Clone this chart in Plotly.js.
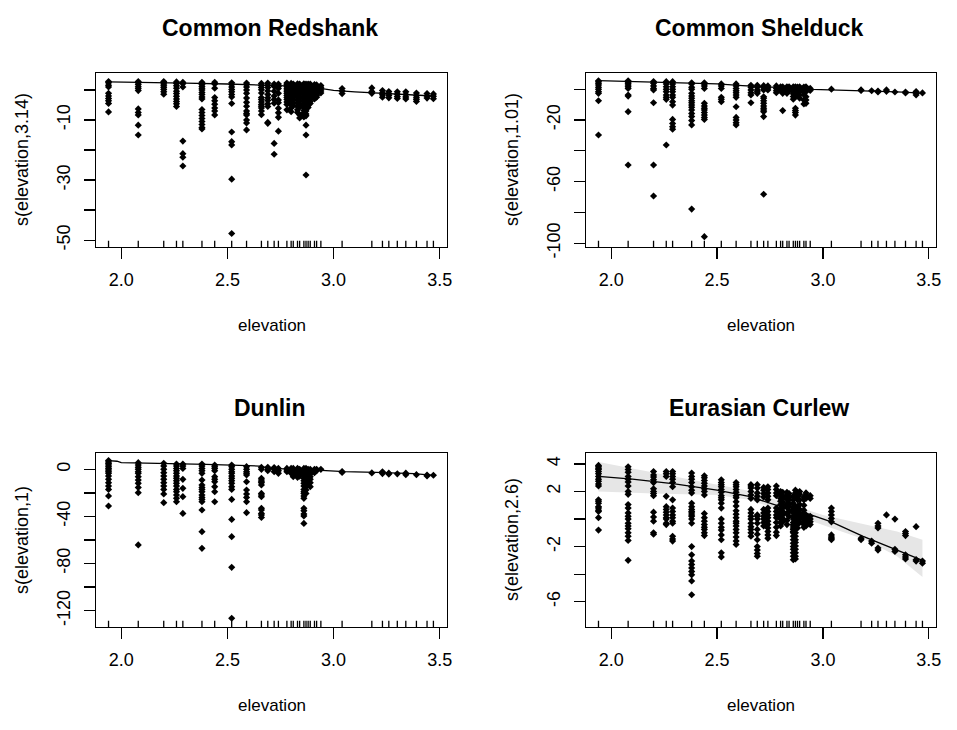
<!DOCTYPE html>
<html>
<head>
<meta charset="utf-8">
<script src="https://cdn.plot.ly/plotly-3.0.1.min.js"></script>
<style>html,body{margin:0;padding:0;background:#fff;}#chart{width:957px;height:730px;}</style>
</head>
<body>
<div id="chart"></div>
<script>
// ---------- DATA ----------
const panelTitles = ["Common Redshank", "Common Shelduck", "Dunlin", "Eurasian Curlew"];
const yTitles = ["s(elevation,3.14)", "s(elevation,1.01)", "s(elevation,1)", "s(elevation,2.6)"];
const xTickVals = [2.0, 2.5, 3.0, 3.5];
const xTickText = ["2.0", "2.5", "3.0", "3.5"];

// site elevations (columns of partial residuals, also the rug)
const elevation = [1.94, 2.08, 2.20, 2.26, 2.29, 2.38, 2.44, 2.52, 2.59, 2.66, 2.69, 2.72, 2.74, 2.78, 2.80, 2.81, 2.83,
  2.84, 2.86, 2.87, 2.88, 2.89, 2.91, 2.92, 2.94, 3.04, 3.18, 3.23, 3.26, 3.30, 3.34, 3.39, 3.44, 3.47];

const redshankRes = [
  [2.8,2.4,1.6,1.0,-1.1,-2.0,-2.8,-3.6,-4.5,-7.3],
  [2.8,2.4,1.8,1.1,0.5,-0.2,-6.3,-7.5,-8.3,-11.7,-15.0],
  [2.8,2.5,2.0,1.4,0.8,0.2,-0.6,-1.4],
  [2.7,2.2,1.4,0.6,-0.4,-1.2,-2.1,-3.0,-3.8,-4.6,-5.5],
  [2.6,2.1,1.0,-17.0,-21.2,-22.4,-25.3],
  [2.6,2.2,1.8,1.2,0.6,0.0,-0.8,-1.5,-2.3,-3.0,-6.5,-7.5,-8.5,-9.5,-10.5,-11.5,-12.5,-13.0],
  [2.6,2.0,0.6,-2.5,-3.6,-4.7,-6.0,-7.0,-8.3],
  [2.4,1.8,1.0,0.2,-0.6,-1.5,-2.3,-4.5,-14.0,-17.2,-18.3,-29.7,-47.8],
  [2.3,1.8,1.0,0.0,-1.1,-2.7,-4.1,-5.4,-7.0,-7.8,-8.3,-10.0,-11.0,-13.3],
  [2.2,1.5,0.8,0.1,-1.0,-2.5,-3.2,-4.0,-4.8,-5.4,-6.0,-7.0,-8.2],
  [2.3,1.6,0.8,-0.3,-1.5,-2.6,-3.5,-4.6,-5.5,-10.8,-11.1],
  [2.0,1.2,-0.4,-2.0,-3.2,-4.4,-17.8,-21.4],
  [2.0,1.2,0.5,-1.1,-3.3,-4.2,-6.1,-7.6,-9.1,-13.7],
  [2.3,1.8,1.2,0.6,0.0,-0.6,-1.2,-1.8,-2.5,-3.2,-4.0,-4.8,-6.6],
  [2.2,1.6,1.0,0.4,-0.3,-1.0,-1.8,-2.6,-3.4,-4.2,-5.0,-6.0,-7.2],
  [2.0,1.3,0.5,-0.4,-1.3,-2.2,-3.2,-4.4,-5.2],
  [2.1,1.5,0.8,0.1,-0.8,-1.6,-2.5,-3.4,-4.3,-5.5,-6.6,-7.5],
  [2.0,1.2,0.4,-0.5,-1.4,-2.4,-3.5,-4.6,-5.6,-8.2,-9.3],
  [2.1,1.5,0.9,0.2,-0.5,-1.2,-2.0,-2.8,-3.6,-4.4,-5.2,-6.0,-6.8,-7.6,-8.4,-9.0],
  [2.0,1.4,0.8,0.1,-0.6,-1.3,-2.1,-2.9,-3.7,-4.5,-5.3,-6.2,-7.0,-8.0,-8.6,-11.7,-15.0,-28.3],
  [2.0,1.4,0.7,0.0,-0.7,-1.4,-2.1,-2.8,-3.5,-4.3,-5.1,-5.8],
  [2.0,1.3,0.6,-0.1,-0.8,-1.5,-2.3,-3.0,-3.8,-4.5],
  [1.8,1.2,0.5,-0.2,-0.9,-1.6,-2.3,-3.0],
  [1.7,1.0,0.3,-0.4,-1.1,-1.8,-2.4],
  [1.5,0.9,0.3,-0.3,-1.0],
  [0.5,-0.3,-1.2],
  [0.7,-0.5,-1.1],
  [-0.2,-1.0,-1.6,-2.4],
  [-0.5,-1.2,-1.8,-2.6],
  [-0.6,-1.4,-2.2,-2.8],
  [-0.6,-1.5,-2.3,-3.0],
  [-1.0,-1.9,-2.6,-3.2,-3.8],
  [-1.2,-2.0,-2.7],
  [-1.3,-2.1,-2.9]
];
const redshankFitX = [1.94,2.1,2.3,2.5,2.7,2.85,2.93,3.0,3.1,3.2,3.3,3.4,3.47];
const redshankFitY = [2.7,2.6,2.3,2.0,1.6,1.2,0.6,-0.1,-0.6,-1.0,-1.4,-1.8,-2.0];

const shelduckRes = [
  [5.5,4.8,3.8,2.7,1.2,-0.1,-1.6,-2.7,-7.5,-29.7],
  [5.4,4.6,3.8,2.7,1.6,0.5,-3.8,-4.5,-14.6,-49.2],
  [5.0,3.8,2.1,0.5,-0.5,-8.8,-49.2,-69.3],
  [4.9,3.4,1.6,-0.1,-1.6,-3.8,-5.3,-6.6,-36.2],
  [4.9,3.4,1.6,-0.1,-1.6,-3.8,-5.3,-8.1,-10.3,-19.6,-22.2,-24.3,-26.0],
  [4.2,3.4,1.2,-0.1,-2.7,-4.4,-5.9,-7.5,-8.8,-10.3,-11.8,-13.5,-15.7,-17.8,-20.4,-23.2,-77.8],
  [4.2,3.4,2.1,0.5,-9.2,-10.9,-12.4,-13.5,-15.2,-16.8,-18.3,-19.6,-95.7],
  [3.4,2.1,0.5,-5.3,-6.6,-8.1],
  [3.4,2.1,0.5,-1.0,-2.3,-3.8,-5.3,-11.4,-18.3,-20.0,-21.7,-23.2],
  [2.5,1.2,-0.5,-2.3,-3.8,-8.8],
  [2.5,1.2,-0.5,-1.6,-2.7],
  [2.3,1.0,-0.5,-4.9,-5.9,-7.5,-9.2,-10.9,-12.4,-13.5,-14.6,-17.8,-68.2],
  [2.1,0.8,-0.5],
  [2.1,0.5,-1.0,-2.3],
  [1.6,0.3,-1.0],
  [1.6,-0.1,-1.6,-2.7,-13.9],
  [1.6,-0.1,-1.6,-2.7],
  [1.5,0.2,-1.2],
  [1.6,0.0,-1.5,-3.0,-4.8,-6.5],
  [1.5,0.0,-1.6,-3.2,-4.9,-12.4,-13.9,-15.2,-16.8],
  [1.4,0.0,-1.4,-2.8],
  [1.6,0.0,-1.6,-3.8,-5.9],
  [1.4,0.0,-1.6,-3.6,-7.0,-9.6],
  [1.6,0.0,-1.6,-4.9,-7.0,-9.2],
  [0.5,-0.8],
  [0.0],
  [-0.5,-0.8],
  [-1.0],
  [-1.2,-1.8],
  [-0.5,-1.4],
  [-1.8],
  [-1.8,-2.4],
  [-1.5,-2.6,-3.8],
  [-2.4]
];
const shelduckFitX = [1.94,2.2,2.5,2.62,2.7,2.8,2.95,3.1,3.2,3.35,3.47];
const shelduckFitY = [5.5,4.6,3.4,2.3,1.6,1.0,-0.1,-0.6,-1.0,-1.8,-2.5];

const dunlinRes = [
  [7.5,6.3,5.0,3.7,2.3,0.8,-0.6,-2.0,-3.4,-5.7,-8.5,-11.3,-14.2,-17.0,-22.6,-31.1],
  [5.7,3.7,1.7,0.0,-2.0,-3.4,-6.2,-9.1,-11.9,-15.3,-19.8,-64.2],
  [5.1,2.8,0.0,-2.8,-5.7,-8.5,-11.3,-14.2,-17.0,-20.9,-28.3],
  [4.5,2.8,0.8,-1.1,-3.4,-5.7,-7.6,-9.6,-11.9,-14.2,-17.0,-19.0,-21.8,-24.6,-27.5],
  [4.5,2.8,0.8,-8.5,-16.1,-23.2,-37.4],
  [4.5,2.8,0.8,-1.1,-3.4,-9.1,-13.3,-15.3,-17.0,-19.0,-21.8,-23.8,-25.5,-27.5,-34.5,-52.9,-67.1],
  [3.7,2.3,0.8,-1.1,-6.2,-8.5,-10.5,-14.7,-19.0,-27.5],
  [3.7,2.3,0.0,-2.0,-3.4,-5.7,-7.6,-9.6,-11.9,-14.7,-17.0,-25.5,-42.5,-57.2,-83.2,-126.5],
  [2.3,0.0,-2.0,-3.4,-4.8,-10.5,-17.5,-20.9,-23.8,-27.5,-36.8],
  [1.7,0.0,-7.6,-9.1,-10.5,-11.3,-13.3,-20.4,-21.8,-23.2,-33.1,-34.5,-37.4,-38.8,-40.8],
  [1.7,0.0,-1.1],
  [1.5,0.0,-2.0],
  [0.8,-1.1,-3.4],
  [0.8,-0.6,-2.0],
  [0.8,-1.1,-3.4],
  [0.8,-1.1,-3.4,-6.2],
  [0.8,-0.6,-2.8,-4.8,-6.8],
  [0.0,-2.0,-4.0,-5.7],
  [0.8,-0.6,-2.0,-3.4,-5.7,-7.6,-9.6,-11.9,-14.2,-17.0,-19.0,-20.4,-22.6,-24.6,-33.1,-35.1,-37.9,-39.6,-45.9],
  [0.8,-1.1,-3.4,-6.2,-9.1,-11.9,-14.7,-17.5,-20.4],
  [0.0,-2.0,-4.0,-6.2,-8.5,-10.5,-11.9],
  [0.0,-2.0,-4.0,-6.2,-8.5,-11.3,-14.7],
  [0.0,-1.1,-2.8],
  [0.0,-1.1],
  [0.0],
  [-1.8,-2.6],
  [-3.0],
  [-2.0,-3.6],
  [-3.2,-4.0],
  [-3.8],
  [-3.2,-4.5],
  [-4.5],
  [-4.8,-5.6],
  [-5.0]
];
const dunlinFitX = [1.94,1.98,2.0,2.13,2.4,2.65,2.7,2.9,3.05,3.2,3.38,3.47];
const dunlinFitY = [7.4,6.9,5.7,5.4,4.2,2.8,0.9,-0.5,-2.0,-2.6,-3.6,-5.1];

const curlewRes = [
  [3.9,3.8,3.7,3.6,3.45,3.3,3.1,2.9,2.75,2.55,2.4,1.4,1.3,1.15,0.9,0.8,0.65,0.55,0.1,-0.8],
  [3.8,3.6,3.4,3.1,2.9,2.7,2.4,2.0,1.8,1.05,0.8,0.45,0.2,0.0,-0.3,-0.5,-0.7,-1.0,-1.25,-1.55,-3.0],
  [3.45,3.2,3.05,2.85,2.65,2.2,2.0,1.85,1.7,0.5,0.15,-0.15,-1.0,-1.1],
  [3.45,3.3,3.1,1.65,0.9,0.7,0.5,0.3,0.1,0.0,-0.3,-0.4],
  [3.45,3.3,3.1,2.9,2.65,2.35,1.4,0.8,0.55,0.3,0.1,-0.15,-0.3,-1.25,-1.45,-1.6],
  [3.35,3.1,2.9,2.65,2.35,2.1,1.9,1.15,0.9,0.7,0.55,0.45,0.3,0.2,0.0,-0.3,-2.0,-2.6,-3.05,-3.3,-3.55,-3.8,-4.05,-4.5,-5.5],
  [3.15,3.0,2.8,2.6,2.4,2.2,2.0,1.75,0.4,0.1,-0.15,-0.4,-0.6,-0.75,-1.0,-1.2],
  [2.85,2.65,2.5,2.35,2.15,1.95,1.7,1.55,1.4,1.15,0.8,0.0,-0.3,-0.6,-0.8,-1.15,-1.5,-2.45,-2.75],
  [2.65,2.5,2.35,2.15,1.95,1.7,1.55,1.25,0.95,0.6,0.35,0.1,-0.15,-0.3,-0.5,-0.75,-1.0,-1.3,-1.6,-1.85],
  [2.5,2.4,2.25,2.0,1.75,1.5,0.7,0.45,0.2,0.0,-0.3,-0.55,-0.75,-1.0,-1.25],
  [2.5,2.25,1.9,1.65,1.4,0.3,0.2,0.0,-0.3,-0.75,-1.1,-1.5,-2.0,-2.25,-2.5,-2.7],
  [2.3,2.1,1.85,1.6,0.7,0.45,0.2,0.0,-0.25,-0.5],
  [2.35,2.15,1.9,1.65,1.4,0.8,0.55,0.3,0.1,-0.15,-0.4,-0.65,-0.9,-1.15,-1.4],
  [2.4,2.15,1.9,1.7,0.8,0.55,0.3,0.1,-0.25,-0.6,-0.95,-1.2],
  [2.0,1.75,1.5,1.3,1.05,0.7,0.45,0.2,0.0,-0.25,-0.5],
  [1.95,1.7,1.5,1.25,1.0,0.8,0.55,0.3,0.05,-0.2],
  [1.95,1.7,1.45,1.1,0.85,0.4,-0.1,-0.4],
  [1.85,1.6,1.4,1.1,0.9,0.55,0.2],
  [1.65,1.4,1.15,0.9,0.7,0.45,0.2,0.0,-0.25,-0.4,-0.5,-0.65,-0.75,-0.9,-1.0,-1.25,-1.5,-1.75,-2.0,-2.2,-2.45,-2.7,-2.95],
  [2.1,1.9,1.65,0.9,0.55,0.2,0.0,-0.3,-0.5,-0.75,-1.0,-1.25,-1.5,-1.7,-1.95,-2.2,-2.45,-2.7,-2.9],
  [1.9,1.65,1.4,0.9,0.55,0.2,-0.15,-0.4,-0.65],
  [2.0,1.8,1.4,1.05,0.7,0.45,0.2,0.0,-0.25],
  [1.6,1.4,1.0,0.65,0.3,0.1,-0.15,-0.4,-0.6],
  [1.9,1.7,1.5,0.3,0.1,-0.1,-0.3,-0.5],
  [1.7,1.5,0.2,0.0,-0.2,-0.4],
  [0.8,0.55,0.3,0.05,-0.2,-1.15,-1.3,-1.4,-1.5],
  [-1.4,-1.5],
  [-1.6,-1.75],
  [-0.3,-0.5,-0.65,-2.1,-2.25],
  [0.3],
  [0.0,-2.2,-2.35],
  [-0.9,-1.05,-1.2,-2.6,-2.75,-2.9],
  [-0.55,-2.95,-3.05],
  [-3.05,-3.2]
];
const curlewFitX = [1.94,2.1,2.3,2.5,2.65,2.8,2.93,3.04,3.19,3.34,3.47];
const curlewFitY = [3.1,2.9,2.55,2.1,1.65,0.9,0.37,-0.2,-1.25,-2.2,-3.0];
const curlewBandX = [1.94,2.2,2.5,2.65,2.8,3.0,3.2,3.35,3.47];
const curlewBandUpper = [4.15,3.4,2.5,2.05,1.3,0.3,-0.4,-0.9,-1.5];
const curlewBandLower = [2.0,1.85,1.75,1.4,0.65,-0.45,-1.5,-2.7,-4.2];

// y axis ticks (all tick marks / labelled ones)
const yTickVals = [[0,-10,-20,-30,-40,-50],[0,-20,-40,-60,-80,-100],[0,-20,-40,-60,-80,-100,-120],[4,2,0,-2,-4,-6]];
const yTickText = [["","-10","","-30","","-50"],["","-20","","-60","","-100"],["0","","-40","","-80","","-120"],["4","2","","-2","","-6"]];
const yRanges = [[-52.3,5.67],[-102.4,10.5],[-133.9,13.9],[-7.84,4.8]];
const xRange = [1.881,3.534];

// ---------- LAYOUT GEOMETRY (pixels) ----------
const W = 957, H = 730;
const boxesPx = [ // [left, right, top, bottom]
  [96,447,73,247],[586,936,73,247],[96,447,453,627],[586,936,453,627]
];

function flatten(xs, res) {
  const x = [], y = [];
  xs.forEach((e, i) => res[i].forEach(v => { x.push(e); y.push(v); }));
  return {x, y};
}

const resid = [redshankRes, shelduckRes, dunlinRes, curlewRes];
const fitsX = [redshankFitX, shelduckFitX, dunlinFitX, curlewFitX];
const fitsY = [redshankFitY, shelduckFitY, dunlinFitY, curlewFitY];

const traces = [];
const shapes = [];
const annotations = [];
const layout = {
  width: W, height: H,
  margin: {l:0, r:0, t:0, b:0},
  paper_bgcolor: "#fff", plot_bgcolor: "#fff",
  showlegend: false,
  font: {family: "Liberation Sans, Arial, sans-serif", color: "#000", size: 18}
};

for (let p = 0; p < 4; p++) {
  const xa = p === 0 ? "x" : "x" + (p + 1);
  const ya = p === 0 ? "y" : "y" + (p + 1);
  const xk = p === 0 ? "xaxis" : "xaxis" + (p + 1);
  const yk = p === 0 ? "yaxis" : "yaxis" + (p + 1);
  const b = boxesPx[p];

  if (p === 3) {
    traces.push({x: curlewBandX, y: curlewBandUpper, xaxis: xa, yaxis: ya, mode: "lines",
      line: {width: 0, color: "rgba(0,0,0,0)"}, hoverinfo: "skip"});
    traces.push({x: curlewBandX, y: curlewBandLower, xaxis: xa, yaxis: ya, mode: "lines",
      fill: "tonexty", fillcolor: "#e6e6e6", line: {width: 0, color: "rgba(0,0,0,0)"}, hoverinfo: "skip"});
  }
  const pts = flatten(elevation, resid[p]);
  traces.push({x: pts.x, y: pts.y, xaxis: xa, yaxis: ya, mode: "markers", type: "scatter",
    marker: {symbol: "diamond", size: 5.5, color: "#000", line: {width: 0}}});
  traces.push({x: fitsX[p], y: fitsY[p], xaxis: xa, yaxis: ya, mode: "lines",
    line: {color: "#000", width: 1.3}});

  layout[xk] = {
    domain: [b[0] / W, b[1] / W], anchor: ya, range: xRange,
    showgrid: false, zeroline: false, showline: true, mirror: true, linecolor: "#000", linewidth: 1.3,
    ticks: "outside", ticklen: 11, tickwidth: 1.2, tickcolor: "#000",
    tickvals: xTickVals, ticktext: xTickText, tickfont: {size: 18}, ticklabelstandoff: 5
  };
  layout[yk] = {
    domain: [1 - b[3] / H, 1 - b[2] / H], anchor: xa, range: yRanges[p],
    showgrid: false, zeroline: false, showline: true, mirror: true, linecolor: "#000", linewidth: 1.3,
    ticks: "outside", ticklen: 11, tickwidth: 1.2, tickcolor: "#000",
    tickvals: yTickVals[p], ticktext: yTickText[p], tickangle: -90, tickfont: {size: 18}, ticklabelstandoff: 7
  };

  // rug
  elevation.forEach(e => shapes.push({type: "line", xref: xa, yref: ya + " domain",
    x0: e, x1: e, y0: 0, y1: 0.036, line: {color: "#000", width: 1.3}}));

  const cx = (b[0] + b[1]) / 2;
  annotations.push({text: "<b>" + panelTitles[p] + "</b>", xref: "paper", yref: "paper",
    x: (cx - 2) / W, y: 1 - (b[2] - 45) / H, showarrow: false, xanchor: "center", yanchor: "middle",
    font: {size: 23}});
  annotations.push({text: "elevation", xref: "paper", yref: "paper",
    x: cx / W, y: 1 - (b[3] + 78) / H, showarrow: false, xanchor: "center", yanchor: "middle",
    font: {size: 17}});
  annotations.push({text: yTitles[p], xref: "paper", yref: "paper", textangle: -90,
    x: (b[0] - 74) / W, y: 1 - ((b[2] + b[3]) / 2) / H, showarrow: false, xanchor: "center", yanchor: "middle",
    font: {size: 18}});
}
layout.shapes = shapes;
layout.annotations = annotations;

Plotly.newPlot("chart", traces, layout, {staticPlot: true, displayModeBar: false});
</script>
</body>
</html>
